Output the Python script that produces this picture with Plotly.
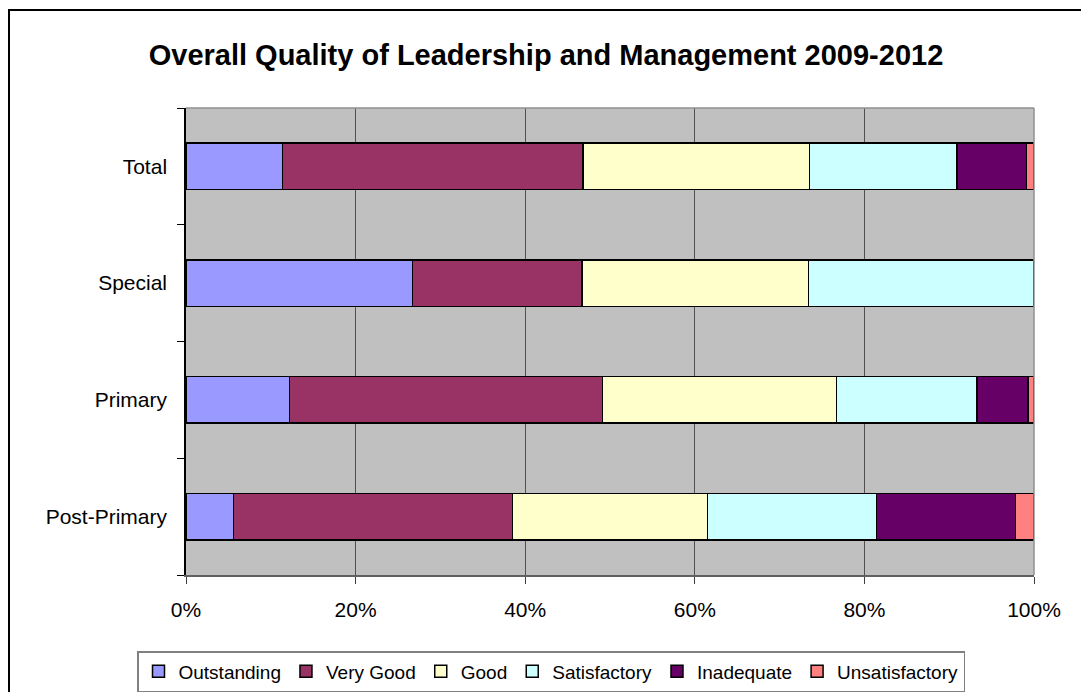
import plotly.graph_objects as go

categories = ["Post-Primary", "Primary", "Special", "Total"]
series_names = ["Outstanding", "Very Good", "Good", "Satisfactory", "Inadequate", "Unsatisfactory"]
outstanding = [5.6, 12.2, 26.7, 11.4]
very_good = [32.9, 36.9, 20.0, 35.4]
good = [23.0, 27.6, 26.7, 26.7]
satisfactory = [19.9, 16.6, 26.6, 17.4]
inadequate = [16.4, 6.0, 0.0, 8.2]
unsatisfactory = [2.2, 0.7, 0.0, 0.9]
x_ticks = [0, 20, 40, 60, 80, 100]
x_tick_labels = ["0%", "20%", "40%", "60%", "80%", "100%"]

colors = ["#9999FF", "#993366", "#FFFFCC", "#CCFFFF", "#660066", "#FF8080"]
values = [outstanding, very_good, good, satisfactory, inadequate, unsatisfactory]

FONT = "Liberation Sans, Arial, sans-serif"

fig = go.Figure()
for name, vals, col in zip(series_names, values, colors):
    fig.add_trace(go.Bar(
        y=categories, x=vals, name=name, orientation="h",
        marker=dict(color=col, line=dict(color="black", width=1.5)),
        hoverinfo="x+y+name",
    ))

W, H = 1081, 692
L, R, T, B = 186, 1034, 108, 575

def px_x(p):
    return (p - L) / (R - L)

def px_y(p):
    return (B - p) / (B - T)

fig.update_layout(
    width=W, height=H,
    margin=dict(l=L, r=W - R, t=T, b=H - B, pad=0),
    paper_bgcolor="white",
    plot_bgcolor="#C0C0C0",
    barmode="stack",
    bargap=0.6,
    font=dict(family=FONT, color="black", size=21),
    title=dict(
        text="<b>Overall Quality of Leadership and Management 2009-2012</b>",
        x=546 / W, xanchor="center", y=1 - 55 / H, yanchor="middle",
        font=dict(family=FONT, size=29, color="black"),
    ),
    showlegend=True,
    legend=dict(
        orientation="h", xref="container", yref="container",
        x=551 / W, xanchor="center",
        y=1 - 651 / H, yanchor="top",
        bgcolor="white", bordercolor="#808080", borderwidth=1.5,
        font=dict(family=FONT, size=19, color="black"),
        traceorder="normal", itemwidth=30,
    ),
    xaxis=dict(
        range=[0, 100], tickvals=x_ticks, ticktext=x_tick_labels,
        showgrid=True, gridcolor="#505050", gridwidth=1,
        showline=True, linecolor="#606060", linewidth=1.5,
        ticks="outside", ticklen=7, tickcolor="#404040",
        tickfont=dict(family=FONT, size=21, color="black"),
        ticklabelstandoff=8,
        zeroline=False, fixedrange=True, automargin=False,
    ),
    yaxis=dict(
        categoryorder="array", categoryarray=categories,
        showgrid=False, showline=True, linecolor="black", linewidth=1.5,
        ticks="outside", ticklen=7, tickcolor="black", tickson="boundaries",
        tickfont=dict(family=FONT, size=21, color="black"),
        ticklabelstandoff=13,
        zeroline=False, fixedrange=True, automargin=False,
    ),
    shapes=[
        dict(type="line", xref="paper", yref="paper", x0=0, x1=1, y0=1, y1=1,
             line=dict(color="#909090", width=1.5), layer="above"),
        dict(type="line", xref="paper", yref="paper", x0=1, x1=1, y0=0, y1=1,
             line=dict(color="#909090", width=1.5), layer="above"),
        dict(type="rect", xref="paper", yref="paper",
             x0=px_x(9), x1=px_x(1200), y0=px_y(10), y1=px_y(760),
             line=dict(color="black", width=2), fillcolor="rgba(0,0,0,0)", layer="above"),
    ],
)

fig.write_html("out.html", config={"displayModeBar": False})

with open("out.html", "r", encoding="utf-8") as f:
    html = f.read()
html = html.replace("<head>", "<head><style>html,body{margin:0;padding:0;overflow:hidden;}</style>", 1)
with open("out.html", "w", encoding="utf-8") as f:
    f.write(html)
